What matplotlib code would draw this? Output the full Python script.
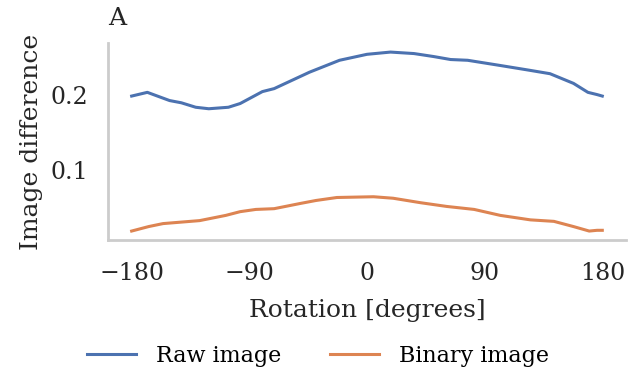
import matplotlib
matplotlib.use("Agg")
import matplotlib.pyplot as plt
import numpy as np

# rotation angles (degrees) and image difference
raw_deg = [-180, -168, -151, -142, -131, -121, -106, -97, -80, -71, -44, -21, 0,
           18, 36, 51, 64, 77, 102, 123, 140, 158, 169, 176, 180]
raw_val = [0.199, 0.204, 0.193, 0.190, 0.184, 0.182, 0.184, 0.189, 0.205, 0.209,
           0.231, 0.247, 0.255, 0.258, 0.256, 0.252, 0.248, 0.247, 0.240, 0.234,
           0.229, 0.216, 0.204, 0.201, 0.199]

bin_deg = [-180, -167, -156, -128, -108, -97, -85, -71, -51, -39, -23, 5, 20,
           41, 61, 82, 102, 125, 143, 158, 170, 176, 180]
bin_val = [0.018, 0.024, 0.028, 0.032, 0.039, 0.044, 0.047, 0.048, 0.055, 0.059,
           0.063, 0.064, 0.062, 0.056, 0.051, 0.047, 0.039, 0.033, 0.031, 0.024,
           0.018, 0.019, 0.019]

xticks = [-180, -90, 0, 90, 180]
xticklabels = ['\u2212180', '\u221290', '0', '90', '180']
yticks = [0.1, 0.2]

plt.rcParams['font.family'] = 'DejaVu Serif'
txt = '#262626'

fig = plt.figure(figsize=(6.36, 3.75), dpi=100)
ax = fig.add_axes([0.170, 0.36, 0.814, 0.525])

ax.plot(raw_deg, raw_val, color='#4C72B0', linewidth=2.2, label='Raw image')
ax.plot(bin_deg, bin_val, color='#DD8452', linewidth=2.2, label='Binary image')

ax.set_xticks(xticks)
ax.set_xticklabels(xticklabels)
ax.set_yticks(yticks)
ax.tick_params(labelsize=17, length=0, pad=14, colors=txt)
ax.tick_params(axis='x', pad=16)
ax.set_xlabel('Rotation [degrees]', fontsize=18, color=txt, labelpad=10)
ax.set_ylabel('Image difference', fontsize=18, color=txt, labelpad=6)
ax.set_title('A', loc='left', fontsize=18, color=txt, x=0.0, pad=13)

for s in ['top', 'right']:
    ax.spines[s].set_visible(False)
for s in ['left', 'bottom']:
    ax.spines[s].set_color('#cccccc')
    ax.spines[s].set_linewidth(2)

fig.legend(loc='center', ncol=2, frameon=False, fontsize=16,
           bbox_to_anchor=(0.5, 19 / 375), handlelength=2.2,
           handletextpad=0.9, columnspacing=2.2)

fig.savefig('out.png', dpi=100)
